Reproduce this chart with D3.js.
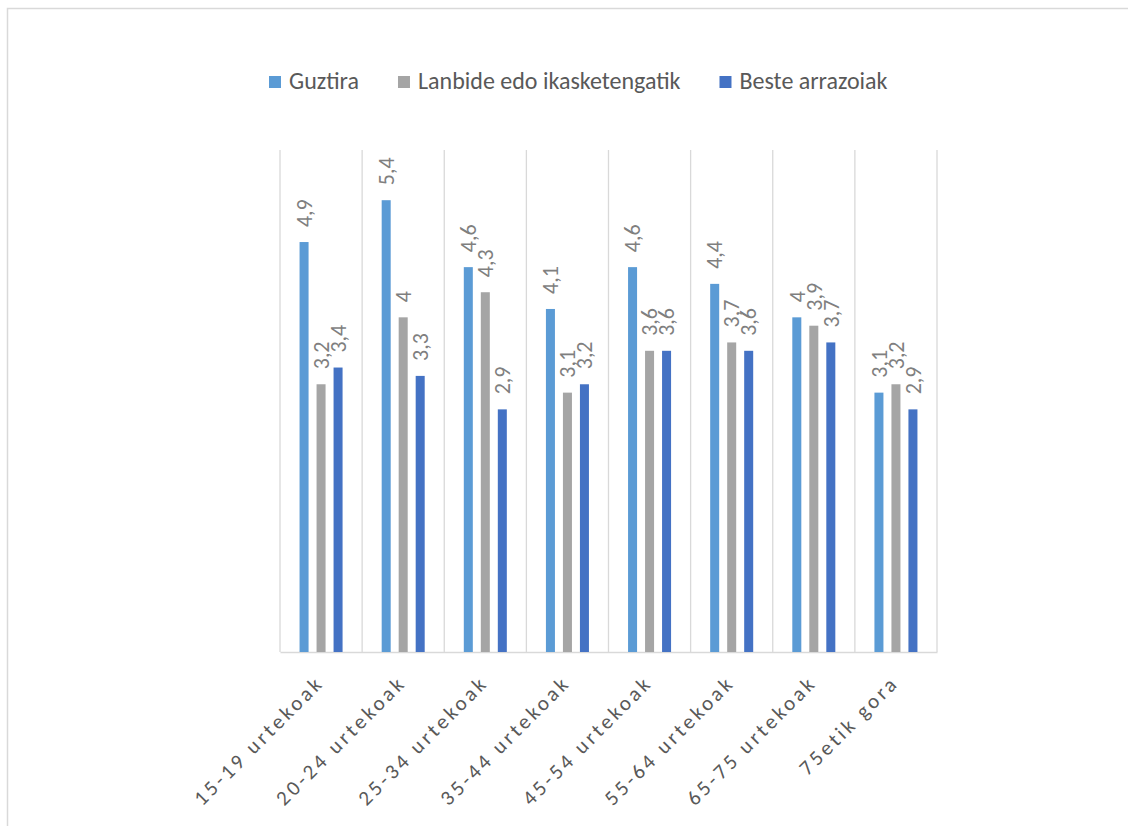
<!DOCTYPE html>
<html>
<head>
<meta charset="utf-8">
<script src="https://cdn.jsdelivr.net/npm/d3@7"></script>
<style>
  html, body { margin: 0; padding: 0; background: #fff; }
  svg { display: block; }
  text { font-family: Carlito, Lato, "Open Sans", sans-serif; }
</style>
</head>
<body>
<svg id="chart" width="1128" height="826"></svg>
<script>
const categories = ["15-19 urtekoak", "20-24 urtekoak", "25-34 urtekoak", "35-44 urtekoak",
                    "45-54 urtekoak", "55-64 urtekoak", "65-75 urtekoak", "75etik gora"];
const seriesNames = ["Guztira", "Lanbide edo ikasketengatik", "Beste arrazoiak"];
const guztira = [4.9, 5.4, 4.6, 4.1, 4.6, 4.4, 4.0, 3.1];
const lanbide = [3.2, 4.0, 4.3, 3.1, 3.6, 3.7, 3.9, 3.2];
const beste   = [3.4, 3.3, 2.9, 3.2, 3.6, 3.6, 3.7, 2.9];
const colors = ["#5b9bd5", "#a5a5a5", "#4472c4"];
const yMax = 6;

const seriesValues = [guztira, lanbide, beste];
const svg = d3.select("#chart");

// outer frame
svg.append("rect")
  .attr("x", 7.5).attr("y", 8.5).attr("width", 1300).attr("height", 1000)
  .attr("fill", "#fff").attr("stroke", "#d9d9d9").attr("stroke-width", 1.5);

const plot = { left: 280, right: 937, top: 150, bottom: 652 };

const x = d3.scaleBand().domain(categories).range([plot.left, plot.right]).paddingInner(0).paddingOuter(0);
const xs = d3.scaleBand().domain(seriesNames).range([0, x.bandwidth()]).paddingInner(0.47).paddingOuter(1.15);
const y = d3.scaleLinear().domain([0, yMax]).range([plot.bottom, plot.top]);

// vertical category gridlines
const bounds = categories.map(c => x(c)).concat([plot.right]);
svg.append("g").selectAll("line").data(bounds).join("line")
  .attr("x1", d => d).attr("x2", d => d)
  .attr("y1", y(yMax)).attr("y2", y(0))
  .attr("stroke", "#d9d9d9").attr("stroke-width", 1.3);

// x axis
const xAxis = d3.axisBottom(x).tickSize(0).tickPadding(0);
const gx = svg.append("g").attr("transform", `translate(0,${y(0)})`).call(xAxis);
gx.select(".domain").attr("stroke", "#d9d9d9").attr("stroke-width", 1.5);
gx.selectAll(".tick text")
  .attr("fill", "#595959")
  .style("font-size", "21px")
  .style("letter-spacing", "3.2px")
  .attr("text-anchor", "end")
  .attr("dy", null).attr("y", 0)
  .attr("transform", "translate(4,32) rotate(-45)");

// bars
const fmt = v => String(v).replace(".", ",");
seriesNames.forEach((s, si) => {
  const g = svg.append("g");
  const data = categories.map((c, i) => ({ c, v: seriesValues[si][i] }));
  g.selectAll("rect").data(data).join("rect")
    .attr("x", d => x(d.c) + xs(s))
    .attr("width", xs.bandwidth())
    .attr("y", d => y(d.v))
    .attr("height", d => y(0) - y(d.v))
    .attr("fill", colors[si]);
  g.selectAll("text").data(data).join("text")
    .attr("transform", d => `translate(${x(d.c) + xs(s) + xs.bandwidth() / 2},${y(d.v) - 15}) rotate(-90)`)
    .attr("dy", "0.35em")
    .attr("text-anchor", "start")
    .attr("fill", "#7f7f7f")
    .style("font-size", "22px")
    .text(d => fmt(d.v));
});

// legend
const legend = svg.append("g").attr("transform", "translate(269,0)");
let lx = 0;
seriesNames.forEach((s, i) => {
  const item = legend.append("g").attr("transform", `translate(${lx},0)`);
  item.append("rect").attr("x", 0).attr("y", 76).attr("width", 12).attr("height", 12).attr("fill", colors[i]);
  const t = item.append("text").attr("x", 20).attr("y", 89)
    .attr("fill", "#595959").style("font-size", "24px").text(s);
  lx += 20 + t.node().getComputedTextLength() + 39;
});
</script>
</body>
</html>
